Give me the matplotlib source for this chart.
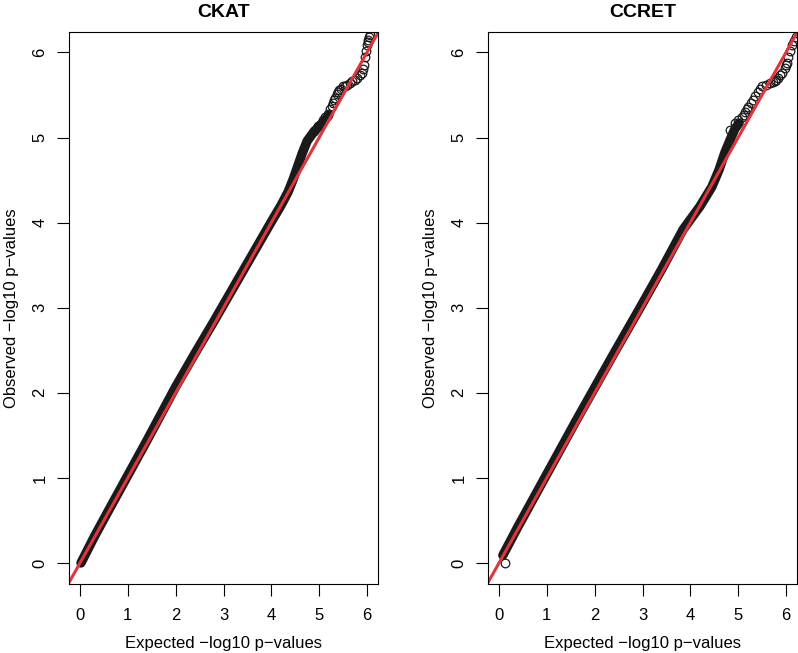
import matplotlib.pyplot as plt

plt.rcParams['font.family'] = ['Liberation Sans', 'DejaVu Sans']

titles = ["CKAT", "CCRET"]

# dense part of each QQ curve (expected, observed)
ckat_band_exp = [0.02, 0.3, 0.6, 1.0, 1.4, 1.8, 2.0, 2.4, 2.8, 3.2, 3.6, 4.0, 4.2, 4.35, 4.45, 4.55, 4.65, 4.75, 4.88, 4.98, 5.1, 5.2]
ckat_band_obs = [0.0, 0.31, 0.62, 1.03, 1.44, 1.86, 2.07, 2.46, 2.84, 3.23, 3.62, 4.01, 4.2, 4.36, 4.5, 4.66, 4.82, 4.96, 5.06, 5.12, 5.19, 5.26]
ckat_tail_exp = [4.9, 4.98, 5.03, 5.08, 5.13, 5.18, 5.23, 5.26, 5.29, 5.31, 5.34, 5.37, 5.39, 5.42, 5.45,
                 5.5, 5.54, 5.58, 5.64, 5.69, 5.74, 5.79, 5.85, 5.9, 5.92, 5.94, 5.96, 5.98, 6.0,
                 6.02, 6.03, 6.05, 6.06]
ckat_tail_obs = [5.08, 5.13, 5.16, 5.21, 5.24, 5.28, 5.33, 5.37, 5.41, 5.44, 5.47, 5.51, 5.54, 5.56, 5.57,
                 5.6, 5.61, 5.62, 5.64, 5.66, 5.68, 5.7, 5.73, 5.76, 5.8, 5.85, 5.95, 6.02, 6.09,
                 6.12, 6.15, 6.18, 6.21]

ccret_band_exp = [0.08, 0.4, 0.8, 1.2, 1.6, 2.0, 2.4, 2.95, 3.4, 3.85, 4.2, 4.45, 4.6, 4.72, 4.83, 4.93, 5.02]
ccret_band_obs = [0.09, 0.43, 0.84, 1.25, 1.66, 2.06, 2.46, 3.0, 3.45, 3.92, 4.19, 4.42, 4.62, 4.82, 4.97, 5.1, 5.17]
ccret_tail_exp = [0.13, 4.83, 4.93, 5.0, 5.08, 5.12, 5.15, 5.18, 5.21, 5.26, 5.31, 5.36, 5.41, 5.46, 5.5,
                  5.58, 5.67, 5.72, 5.77, 5.8, 5.83, 5.88, 5.92, 5.98, 6.0, 6.02, 6.04, 6.09,
                  6.13, 6.17, 6.2]
ccret_tail_obs = [0.0, 5.09, 5.17, 5.2, 5.24, 5.27, 5.3, 5.33, 5.36, 5.4, 5.44, 5.49, 5.54, 5.57, 5.6,
                  5.62, 5.64, 5.65, 5.66, 5.68, 5.7, 5.73, 5.76, 5.82, 5.85, 5.88, 5.95, 6.02,
                  6.09, 6.14, 6.18]

panels = [
    (ckat_band_exp, ckat_band_obs, ckat_tail_exp, ckat_tail_obs),
    (ccret_band_exp, ccret_band_obs, ccret_tail_exp, ccret_tail_obs),
]

fig = plt.figure(figsize=(7.98, 6.53), dpi=100)
lefts = [69 / 798, 488 / 798]
red = '#E0353D'

for i, (bx, by, tx, ty) in enumerate(panels):
    ax = fig.add_axes([lefts[i], 1 - 584 / 653, 309 / 798, 552 / 653])
    ax.plot(bx, by, color='#1a1a1a', lw=6.8, solid_capstyle='round', solid_joinstyle='round')
    ax.plot(tx, ty, 'o', mfc='none', mec='#1a1a1a', ms=6.2, mew=0.9)
    ax.axline((0, 0), slope=1, color=red, lw=2.2)
    ax.set_xlim(-0.23, 6.23)
    ax.set_ylim(-0.247, 6.24)
    ax.set_xticks(range(7))
    ax.set_yticks(range(7))
    ax.tick_params(direction='out', length=8.5, width=0.8, labelsize=12)
    ax.tick_params(axis='x', pad=9)
    ax.tick_params(axis='y', pad=7)
    for t in ax.get_yticklabels():
        t.set_rotation(90)
        t.set_va('center')
    for s in ax.spines.values():
        s.set_linewidth(0.8)
    ax.set_title(titles[i], fontsize=14, fontweight='bold', pad=11)
    ax.set_xlabel("Expected \u2212log10 p\u2212values", fontsize=12, labelpad=9)
    ax.set_ylabel("Observed \u2212log10 p\u2212values", fontsize=12, labelpad=10)

fig.savefig('out.png', dpi=100)
